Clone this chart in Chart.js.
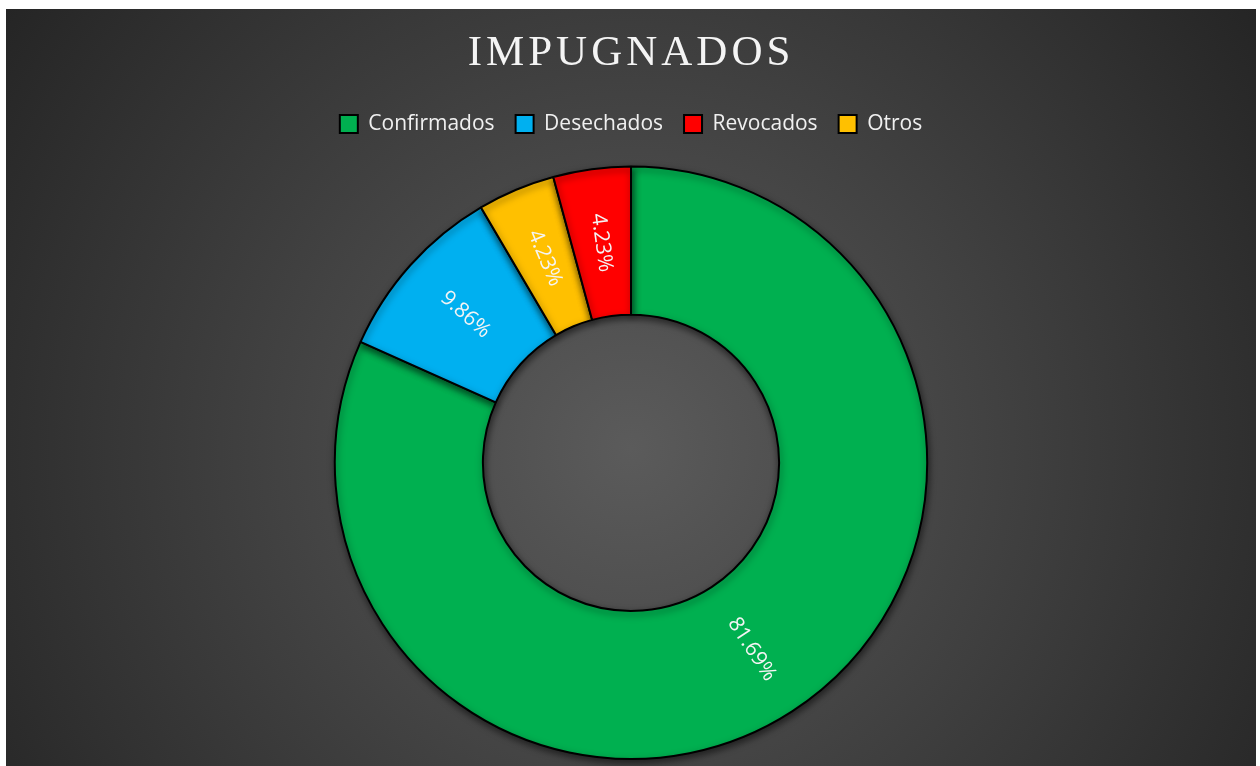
<!DOCTYPE html>
<html lang="es">
<head>
  <meta charset="UTF-8" />
  <title>Impugnados</title>
  <script src="https://cdn.jsdelivr.net/npm/chart.js"></script>
  <style>
    * {
      margin: 0;
      padding: 0;
      box-sizing: border-box;
    }

    body {
      background: #ffffff;
      width: 1260px;
      height: 766px;
      overflow: hidden;
    }

    .panel {
      position: absolute;
      left: 6px;
      top: 9px;
      width: 1250px;
      height: 757px;
      background: radial-gradient(circle farthest-corner at 50% 58%, #5b5b5b 0%, #252525 100%);
    }
  </style>
</head>
<body>
  <div class="panel">
    <canvas id="impugnadosChart"></canvas>
  </div>

  <script>
    // slices in drawing order (clockwise from the top)
    const categories = ['Confirmados', 'Desechados', 'Otros', 'Revocados'];
    const counts = [58, 7, 3, 3];
    const colors = ['#00b050', '#00b0f0', '#ffc000', '#ff0000'];
    // the legend lists them in this order
    const legendOrder = ['Confirmados', 'Desechados', 'Revocados', 'Otros'];

    const total = counts.reduce((a, b) => a + b, 0);

    // spacing between letters of the title
    const titleSpacing = {
      id: 'titleSpacing',
      beforeDraw(chart) {
        const block = chart.titleBlock;
        if (!block || block._spaced) return;
        const draw = block.draw.bind(block);
        block.draw = function () {
          const ctx = chart.ctx;
          ctx.save();
          ctx.letterSpacing = '4px';
          draw();
          ctx.restore();
        };
        block._spaced = true;
      }
    };

    // extra room under the legend
    const legendGap = {
      id: 'legendGap',
      beforeInit(chart) {
        const fit = chart.legend.fit;
        chart.legend.fit = function () {
          fit.bind(chart.legend)();
          this.height += 21;
        };
      }
    };

    // drop shadow behind the slices
    const sliceShadow = {
      id: 'sliceShadow',
      beforeDatasetsDraw(chart) {
        const ctx = chart.ctx;
        ctx.save();
        ctx.shadowColor = 'rgba(0, 0, 0, 0.55)';
        ctx.shadowBlur = 7;
        ctx.shadowOffsetX = 1;
        ctx.shadowOffsetY = 3;
      },
      afterDatasetsDraw(chart) {
        chart.ctx.restore();
      }
    };

    // percentage labels, turned along the radius
    const percentLabels = {
      id: 'percentLabels',
      afterDatasetsDraw(chart) {
        const ctx = chart.ctx;
        const meta = chart.getDatasetMeta(0);
        ctx.save();
        ctx.font = '21px "Open Sans"';
        ctx.fillStyle = '#f4f4f4';
        ctx.textAlign = 'center';
        ctx.textBaseline = 'middle';
        meta.data.forEach((arc, i) => {
          const p = arc.getProps(['x', 'y', 'startAngle', 'endAngle', 'innerRadius', 'outerRadius'], true);
          const mid = (p.startAngle + p.endAngle) / 2;
          const r = (p.innerRadius + p.outerRadius) / 2;
          const x = p.x + Math.cos(mid) * r;
          const y = p.y + Math.sin(mid) * r;
          let rot = mid;
          if (Math.cos(mid) < 0) rot = mid + Math.PI;
          const text = (counts[i] / total * 100).toFixed(2) + '%';
          ctx.save();
          ctx.translate(x, y);
          ctx.rotate(rot);
          ctx.fillText(text, 0, 0);
          ctx.restore();
        });
        ctx.restore();
      }
    };

    const ctx = document.getElementById('impugnadosChart').getContext('2d');

    new Chart(ctx, {
      type: 'doughnut',
      data: {
        labels: categories,
        datasets: [{
          data: counts,
          backgroundColor: colors,
          borderColor: '#000000',
          borderWidth: 2,
          hoverOffset: 0
        }]
      },
      options: {
        responsive: true,
        maintainAspectRatio: false,
        animation: false,
        cutout: '50%',
        layout: {
          padding: { top: 0, bottom: 6, left: 0, right: 0 }
        },
        plugins: {
          title: {
            display: true,
            text: 'IMPUGNADOS',
            color: '#f4f4f4',
            font: { family: '"Liberation Serif"', size: 43, weight: 'normal', lineHeight: 1.2 },
            padding: { top: 19, bottom: 13 }
          },
          legend: {
            position: 'top',
            labels: {
              color: '#f0f0f0',
              font: { family: '"Open Sans"', size: 21 },
              boxWidth: 18,
              boxHeight: 18,
              padding: 21,
              sort: (a, b) => legendOrder.indexOf(a.text) - legendOrder.indexOf(b.text)
            }
          },
          tooltip: { enabled: false }
        }
      },
      plugins: [titleSpacing, legendGap, sliceShadow, percentLabels]
    });
  </script>
</body>
</html>
